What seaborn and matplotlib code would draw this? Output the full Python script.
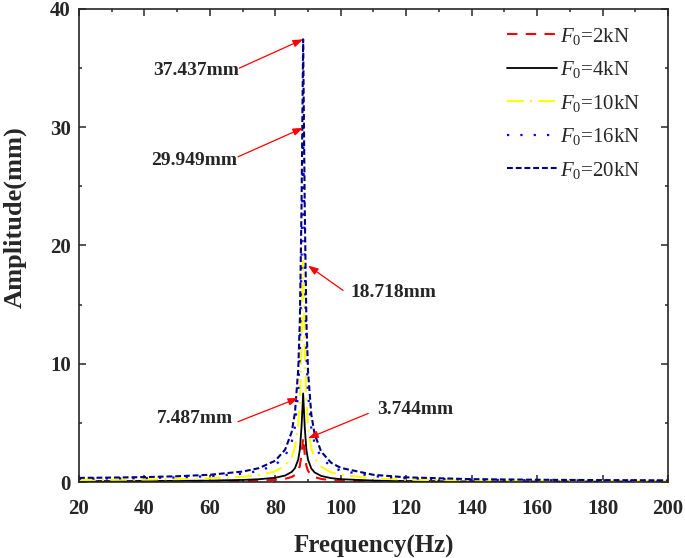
import matplotlib
matplotlib.use("Agg")
import matplotlib.pyplot as plt
from matplotlib.ticker import MultipleLocator
import seaborn as sns

# frequency axis (Hz), denser around the resonance
freq = [20, 30, 40, 50, 60, 70, 75, 80, 83, 85, 86, 87, 87.5, 88, 88.5, 89,
        89.5, 90, 91, 92, 94, 97, 100, 110, 120, 140, 160, 180, 200]

# amplitude (mm)
amp_2kN = [0.035, 0.037, 0.042, 0.049, 0.061, 0.088, 0.117, 0.180, 0.274, 0.42,
           0.59, 0.95, 1.37, 2.31, 3.744, 2.30, 1.35, 0.93, 0.57, 0.41, 0.258,
           0.164, 0.119, 0.061, 0.039, 0.024, 0.019, 0.016, 0.014]
amp_4kN = [0.070, 0.075, 0.083, 0.097, 0.122, 0.176, 0.234, 0.361, 0.548, 0.85,
           1.17, 1.90, 2.74, 4.62, 7.487, 4.59, 2.70, 1.87, 1.14, 0.81, 0.515,
           0.328, 0.238, 0.121, 0.079, 0.048, 0.038, 0.032, 0.028]
amp_10kN = [0.174, 0.187, 0.208, 0.243, 0.306, 0.441, 0.586, 0.902, 1.371, 2.12,
            2.93, 4.76, 6.85, 11.55, 18.718, 11.48, 6.76, 4.67, 2.85, 2.03, 1.288,
            0.820, 0.596, 0.303, 0.197, 0.12, 0.095, 0.08, 0.07]
amp_16kN = [0.278, 0.298, 0.332, 0.388, 0.489, 0.706, 0.937, 1.443, 2.193, 3.38,
            4.69, 7.61, 10.95, 18.48, 29.949, 18.36, 10.82, 7.47, 4.55, 3.25, 2.061,
            1.311, 0.954, 0.485, 0.315, 0.19, 0.15, 0.13, 0.11]
amp_20kN = [0.348, 0.373, 0.415, 0.485, 0.611, 0.882, 1.171, 1.804, 2.741, 4.23,
            5.86, 9.51, 13.69, 23.1, 37.437, 22.95, 13.52, 9.34, 5.69, 4.06, 2.576,
            1.639, 1.192, 0.606, 0.394, 0.24, 0.19, 0.16, 0.14]

labels = [r"$F_0$=2kN", r"$F_0$=4kN", r"$F_0$=10kN", r"$F_0$=16kN", r"$F_0$=20kN"]
peak_labels = ["3.744mm", "7.487mm", "18.718mm", "29.949mm", "37.437mm"]

sns.set_style("ticks")
plt.rcParams["font.family"] = ["Liberation Serif", "DejaVu Serif"]
plt.rcParams["mathtext.fontset"] = "custom"
plt.rcParams["mathtext.rm"] = "Liberation Serif"
plt.rcParams["mathtext.it"] = "Liberation Serif:italic"

fig = plt.figure(figsize=(6.85, 5.58), dpi=100)
ax = fig.add_axes([0.1153, 0.1362, 0.8599, 0.8477])

series = [amp_2kN, amp_4kN, amp_10kN, amp_16kN, amp_20kN]
colors = ["#ff0000", "#000000", "#ffff00", "#0000ff", "#000080"]
styles = [(0, (5, 4)), "-", (0, (8, 3, 1, 3)), (0, (1, 5)), (0, (2.8, 1.4))]
widths = [1.5, 1.3, 1.5, 1.6, 1.5]

for amp, lab, c, ls, lw in zip(series, labels, colors, styles, widths):
    sns.lineplot(x=freq, y=amp, ax=ax, color=c, linestyle=ls, linewidth=lw,
                 label=lab)

ax.set_xlim(20, 200)
ax.set_ylim(0, 40)
ax.xaxis.set_major_locator(MultipleLocator(20))
ax.xaxis.set_minor_locator(MultipleLocator(10))
ax.yaxis.set_major_locator(MultipleLocator(10))
ax.yaxis.set_minor_locator(MultipleLocator(5))
ax.tick_params(which="both", direction="in", top=True, right=True, width=1.1)
ax.tick_params(which="major", length=5)
ax.tick_params(which="minor", length=2.5)
ax.tick_params(axis="x", labelsize=15, pad=12)
ax.tick_params(axis="y", labelsize=15, pad=6)
plt.setp(ax.get_xticklabels() + ax.get_yticklabels(), fontweight="bold")
for sp in ax.spines.values():
    sp.set_linewidth(1.2)

ax.set_xlabel("Frequency(Hz)", fontsize=18, fontweight="bold")
ax.set_ylabel("Amplitude(mm)", fontsize=19, fontweight="bold")
ax.xaxis.set_label_coords(0.5, -0.112)
ax.yaxis.set_label_coords(-0.088, 0.56)

# annotations: (text, head, tail, text anchor, ha)
ipk = freq.index(88.5)
notes = [
    (peak_labels[4], (freq[ipk], amp_20kN[ipk]), (69.0, 35.0), (68.8, 34.8), "right"),
    (peak_labels[3], (freq[ipk], amp_16kN[ipk]), (68.6, 27.5), (68.3, 27.2), "right"),
    (peak_labels[2], (90.0, 18.3), (100.7, 16.2), (102.9, 16.0), "left"),
    (peak_labels[1], (87.0, 7.1), (68.6, 5.1), (67.1, 5.4), "right"),
    (peak_labels[0], (90.0, 3.7), (108.4, 5.8), (111.1, 6.1), "left"),
]
for txt, head, tail, tpos, ha in notes:
    ax.annotate("", xy=head, xytext=tail,
                arrowprops=dict(arrowstyle="-|>,head_length=0.6,head_width=0.22",
                                color="#ff0000", lw=0.9, shrinkA=0, shrinkB=0))
    ax.text(tpos[0], tpos[1], txt, ha=ha, va="center", fontsize=14,
            fontweight="bold")

ax.legend(loc="upper left", bbox_to_anchor=(0.740, 0.954),
          bbox_transform=fig.transFigure, frameon=False, fontsize=15,
          borderpad=0, borderaxespad=0, handlelength=2.4, handletextpad=0.15,
          labelspacing=0.6)

fig.savefig("out.png", dpi=100)
